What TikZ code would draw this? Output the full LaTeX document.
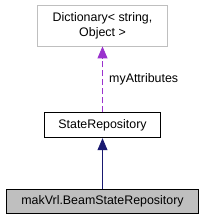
\documentclass[tikz,border=0pt]{standalone}
\usepackage{fontspec}
\setmainfont{Liberation Sans}
\usetikzlibrary{arrows.meta,positioning}
\definecolor{edgegray}{HTML}{BFBFBF}
\definecolor{usecolor}{HTML}{9A32CD}
\definecolor{inhcolor}{HTML}{191970}
\begin{document}
\begin{tikzpicture}[x=1pt,y=1pt, font=\fontsize{12.4}{15}\selectfont, box/.style={draw,line width=0.8pt,minimum height=25pt,inner sep=2pt,align=center}, >={Triangle[length=12pt,width=10pt]}]
\useasboundingbox (0,0) rectangle (205,-221);
\node[box,draw=edgegray,minimum width=130pt,minimum height=41pt] (dict) at (102.5,-25.5) {Dictionary< string,\\Object >};
\node[box,minimum width=116pt,below=66pt of dict] (repo) {StateRepository};
\node[box,fill=edgegray,minimum width=192pt,minimum height=24pt,below=51pt of repo] (beam) {makVrl.BeamStateRepository};
\draw[->,usecolor,dash pattern=on 6pt off 3pt,line width=0.8pt] (repo)--(dict) node[pos=0.5,right=3pt,text=black] {myAttributes};
\draw[->,inhcolor,line width=0.8pt] (beam)--(repo);
\end{tikzpicture}
\end{document}
